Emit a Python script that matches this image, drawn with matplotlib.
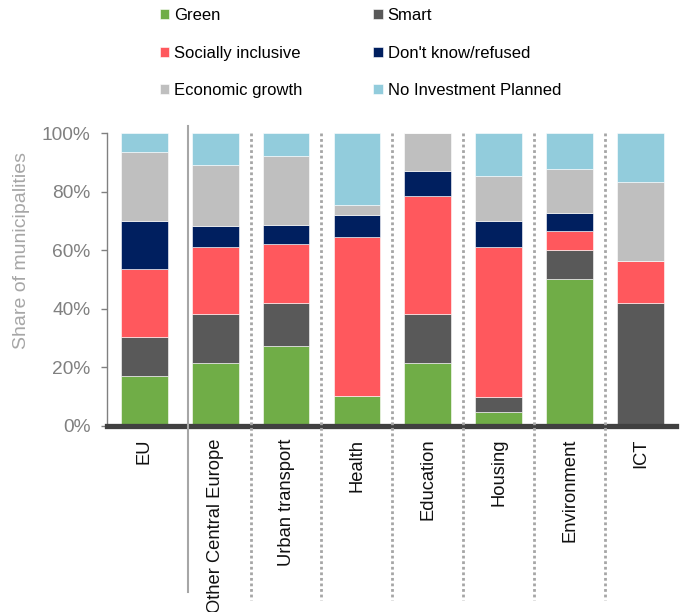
import matplotlib
matplotlib.use("Agg")
import matplotlib.pyplot as plt
import numpy as np

plt.rcParams['font.family'] = ['Liberation Sans', 'DejaVu Sans']

categories = ["EU", "Other Central Europe", "Urban transport", "Health",
              "Education", "Housing", "Environment", "ICT"]
series_names = ["Green", "Smart", "Socially inclusive", "Don't know/refused",
                "Economic growth", "No Investment Planned"]

green      = [17.1, 21.6, 27.3, 10.3, 21.6,  4.9, 50.1,  0.0]
smart      = [13.2, 16.6, 14.6,  0.0, 16.6,  5.1,  9.8, 42.1]
social     = [23.3, 22.8, 20.2, 54.3, 40.2, 51.0,  6.7, 14.1]
dont_know  = [16.5,  7.1,  6.4,  7.3,  8.8,  8.9,  6.2,  0.0]
econ       = [23.5, 20.9, 23.6,  3.5, 12.8, 15.5, 14.9, 27.1]
no_invest  = [ 6.4, 10.9,  7.9, 24.6,  0.0, 14.6, 12.3, 16.7]

yticks = [0, 20, 40, 60, 80, 100]
ytick_labels = ["0%", "20%", "40%", "60%", "80%", "100%"]

colors = ["#70AD47", "#595959", "#FF585D", "#001F5F", "#BFBFBF", "#92CCDC"]

series = [green, smart, social, dont_know, econ, no_invest]

fig = plt.figure(figsize=(6.81, 6.12), dpi=100)
ax = fig.add_axes([107/681, 1 - 426/612, 569/681, 293/612])

x = np.arange(len(categories))
bottom = np.zeros(len(categories))
containers = []
for name, vals, col in zip(series_names, series, colors):
    v = np.array(vals) / 100.0
    c = ax.bar(x, v, width=0.66, bottom=bottom, color=col, label=name,
               edgecolor="white", linewidth=0.4, zorder=2)
    containers.append(c)
    bottom += v

ax.set_xlim(-0.525, 7.5)
ax.set_ylim(0, 1.0)
ax.set_yticks(np.array(yticks) / 100.0)
ax.set_yticklabels(ytick_labels)
ax.set_xticks(x)
ax.set_xticklabels(categories, rotation=90, fontsize=13.2, color="#111111")
ax.tick_params(axis="x", length=0, pad=9)
ax.tick_params(axis="y", direction="out", length=4, width=1, color="#808080",
               labelcolor="#808080", labelsize=13.8, pad=8)

for s in ["top", "right"]:
    ax.spines[s].set_visible(False)
ax.spines["left"].set_color("#808080")
ax.spines["left"].set_linewidth(1.0)
ax.spines["bottom"].set_color("#404040")
ax.spines["bottom"].set_linewidth(3.8)
ax.spines["bottom"].set_zorder(3)

ax.set_ylabel("Share of municipalities", fontsize=14, color="#A6A6A6", va="center")
ax.yaxis.set_label_coords(-0.15, 0.598)

# separators
ax.plot([0.62, 0.62], [1.024, -0.567], transform=ax.get_xaxis_transform(),
        color="#A6A6A6", lw=1.5, clip_on=False, zorder=4)
for i in range(1, len(categories) - 1):
    ax.plot([i + 0.5, i + 0.5], [1.0, -0.594], transform=ax.get_xaxis_transform(),
            color="#A6A6A6", lw=2.0, ls=(0, (1, 1)), clip_on=False, zorder=4)

order = [0, 2, 4, 1, 3, 5]
handles = [containers[i] for i in order]
labels = [series_names[i] for i in order]
fig.legend(handles, labels, ncol=2, loc="upper left",
           bbox_to_anchor=(160/681, 1 - 8/612), frameon=False, fontsize=12,
           handlelength=0.55, handleheight=0.55, handletextpad=0.3,
           columnspacing=4.25, labelspacing=1.36, borderpad=0, borderaxespad=0)

fig.savefig("out.png", dpi=100)
